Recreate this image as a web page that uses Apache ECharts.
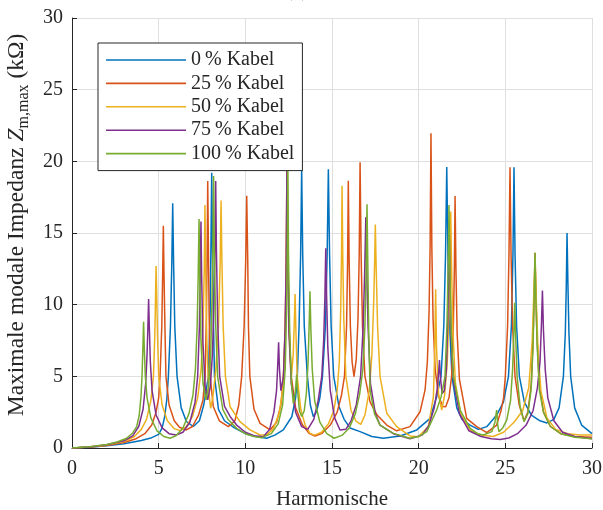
<!DOCTYPE html>
<html><head><meta charset="utf-8">
<script src="https://cdn.jsdelivr.net/npm/echarts@6/dist/echarts.min.js"></script>
<style>html,body{margin:0;padding:0;background:#fff}#c{width:603px;height:510px}</style>
</head><body><div id="c"></div>
<script>
const seriesNames = ['0\u2009% Kabel', '25\u2009% Kabel', '50\u2009% Kabel', '75\u2009% Kabel', '100\u2009% Kabel'];
const xAxisTitle = 'Harmonische';
const titleText = '(a)';

const kabel0 = [[0,0],[1,0.06],[2,0.15],[3,0.3],[4,0.52],[4.6,0.72],[5.0,0.95],[5.2,1.4],[5.35,2.2],[5.47,3.4],[5.56,5.0],[5.68,8.5],[5.76,13.0],[5.81,17.07],[5.86,13.0],[5.93,8.5],[6.06,5.0],[6.3,2.8],[6.6,1.85],[7.0,1.5],[7.35,1.9],[7.6,3.0],[7.87,5.0],[7.97,9.5],[8.02,14.5],[8.06,19.2],[8.1,14.5],[8.15,9.5],[8.22,5.0],[8.45,2.7],[8.8,1.9],[9.37,1.4],[10.0,1.0],[10.6,0.8],[11.23,0.68],[11.7,0.9],[12.19,1.26],[12.68,2.18],[12.9,3.5],[13.0,5.0],[13.1,8.5],[13.19,13.5],[13.25,19.5],[13.31,13.5],[13.4,8.5],[13.58,5.0],[13.75,3.0],[13.92,2.2],[14.1,2.5],[14.3,3.5],[14.45,5.0],[14.62,8.5],[14.72,13.5],[14.79,19.45],[14.86,13.5],[14.95,8.5],[15.1,5.0],[15.4,2.9],[15.7,2.0],[16.04,1.4],[16.62,1.14],[17.3,0.8],[17.96,0.68],[18.93,0.84],[19.89,1.26],[20.66,2.07],[21.04,3.58],[21.29,5.0],[21.45,8.5],[21.55,13.5],[21.62,19.6],[21.69,13.5],[21.79,8.5],[21.92,5.0],[22.2,2.8],[22.5,2.0],[22.96,1.6],[23.44,1.3],[23.93,1.49],[24.5,2.3],[24.89,3.2],[25.18,5.0],[25.35,8.5],[25.44,13.5],[25.5,19.58],[25.56,13.5],[25.65,8.5],[25.81,5.0],[26.1,3.2],[26.5,2.3],[27.0,1.9],[27.4,1.75],[27.8,2.0],[28.1,2.8],[28.35,5.0],[28.46,8.0],[28.52,11.5],[28.56,15.0],[28.61,11.5],[28.67,8.0],[28.77,5.0],[29.0,2.8],[29.4,1.6],[30,1.0]];

const kabel25 = [[0,0],[1,0.07],[2,0.17],[3,0.38],[3.7,0.65],[4.2,1.0],[4.6,1.6],[4.85,2.5],[5.0,3.5],[5.08,5.0],[5.18,8.5],[5.23,12.0],[5.27,15.5],[5.31,12.0],[5.36,8.5],[5.42,5.0],[5.6,3.0],[5.9,1.9],[6.2,1.45],[6.6,1.26],[6.95,1.5],[7.3,2.3],[7.55,3.3],[7.68,5.0],[7.76,9.5],[7.8,14.0],[7.83,18.63],[7.87,14.0],[7.91,9.5],[7.97,5.0],[8.15,2.9],[8.5,1.9],[9.02,1.49],[9.4,1.9],[9.62,3.0],[9.79,5.0],[9.93,8.5],[10.02,13.0],[10.08,17.6],[10.14,13.0],[10.18,8.5],[10.26,5.0],[10.5,2.7],[10.85,1.72],[11.43,1.26],[11.8,1.8],[12.05,3.0],[12.2,5.0],[12.3,8.5],[12.36,13.5],[12.4,19.8],[12.45,13.5],[12.52,8.5],[12.65,5.0],[12.9,2.8],[13.3,1.6],[13.7,1.0],[14.02,0.84],[14.4,1.0],[14.9,1.6],[15.3,2.5],[15.55,3.7],[15.72,5.0],[15.84,8.5],[15.9,13.0],[15.94,18.65],[15.99,13.0],[16.06,8.5],[16.16,6.0],[16.27,4.98],[16.4,6.2],[16.5,9.0],[16.57,13.5],[16.62,19.93],[16.68,13.5],[16.76,8.5],[16.9,5.0],[17.2,3.2],[17.6,2.3],[18.16,1.6],[18.73,1.2],[19.5,1.49],[20.08,2.53],[20.37,4.05],[20.5,6.0],[20.6,9.5],[20.66,14.0],[20.71,21.96],[20.76,14.0],[20.83,9.0],[20.95,5.5],[21.15,3.6],[21.4,2.9],[21.56,2.88],[21.75,3.5],[21.9,5.0],[22.0,8.5],[22.06,12.5],[22.1,17.58],[22.15,12.5],[22.22,8.0],[22.35,4.8],[22.77,2.07],[23.35,1.49],[23.93,1.07],[24.5,1.6],[24.75,2.6],[24.9,3.5],[25.0,5.0],[25.13,8.5],[25.21,13.5],[25.27,19.58],[25.33,13.5],[25.42,8.5],[25.56,5.0],[25.8,3.0],[26.08,1.9],[26.3,2.5],[26.5,4.5],[26.62,8.5],[26.68,11.5],[26.71,13.6],[26.75,11.5],[26.82,8.0],[26.95,4.5],[27.2,2.5],[27.6,1.5],[28.2,1.0],[29.0,0.8],[30,0.75]];

const kabel50 = [[0,0],[1,0.07],[2,0.2],[3,0.45],[3.6,0.8],[4.0,1.3],[4.3,2.0],[4.55,3.3],[4.7,5.0],[4.78,8.0],[4.82,10.5],[4.85,12.7],[4.89,10.5],[4.93,8.0],[5.0,5.0],[5.2,3.0],[5.5,1.9],[5.9,1.35],[6.25,1.2],[6.6,1.5],[6.95,2.2],[7.25,3.5],[7.45,5.5],[7.56,8.5],[7.63,12.5],[7.67,16.96],[7.71,12.5],[7.78,7.5],[7.88,4.0],[8.0,2.77],[8.12,3.5],[8.3,5.5],[8.45,8.5],[8.55,13.0],[8.6,17.26],[8.65,13.0],[8.72,8.5],[8.85,5.0],[9.12,2.88],[9.69,1.84],[10.27,1.26],[10.85,0.91],[11.2,0.9],[11.6,1.3],[11.95,2.4],[12.15,4.0],[12.28,7.0],[12.36,12.0],[12.42,19.9],[12.48,12.0],[12.56,7.0],[12.66,5.0],[12.76,6.5],[12.83,9.0],[12.87,10.75],[12.91,8.5],[12.99,5.0],[13.2,2.7],[13.45,1.6],[13.73,1.02],[14.0,0.9],[14.4,1.1],[14.8,1.7],[15.1,2.6],[15.3,4.0],[15.42,6.0],[15.5,9.5],[15.55,13.5],[15.58,18.3],[15.62,13.5],[15.68,9.0],[15.8,5.0],[16.1,2.6],[16.4,1.85],[16.66,1.65],[16.9,2.3],[17.15,4.0],[17.3,6.5],[17.4,10.0],[17.46,13.0],[17.5,15.6],[17.55,12.5],[17.63,8.5],[17.77,5.0],[18.16,2.42],[18.73,1.49],[19.5,0.84],[19.98,0.79],[20.56,1.49],[20.85,3.58],[20.93,7.0],[20.98,11.07],[21.03,7.0],[21.15,3.7],[21.33,2.65],[21.5,3.7],[21.65,6.0],[21.75,9.5],[21.81,13.0],[21.85,16.5],[21.9,12.5],[21.98,8.0],[22.12,4.5],[22.45,2.3],[22.96,1.26],[23.6,0.9],[24.3,0.8],[24.9,1.1],[25.5,1.8],[26.0,2.6],[26.35,4.2],[26.55,7.5],[26.65,11.0],[26.72,13.3],[26.78,10.5],[26.88,7.0],[27.05,4.0],[27.4,2.1],[27.9,1.3],[28.6,1.0],[29.3,0.9],[30,0.9]];

const kabel75 = [[0,0],[1,0.07],[2,0.22],[3,0.5],[3.5,0.85],[3.85,1.5],[4.1,2.7],[4.25,4.5],[4.33,6.5],[4.38,8.5],[4.42,10.4],[4.46,8.5],[4.52,6.0],[4.62,4.0],[4.85,2.3],[5.2,1.4],[5.6,1.0],[6.0,0.9],[6.4,1.1],[6.8,1.8],[7.1,3.2],[7.25,5.0],[7.35,8.5],[7.41,12.5],[7.44,15.8],[7.48,12.0],[7.55,7.5],[7.68,4.3],[7.83,3.35],[7.98,4.3],[8.1,6.5],[8.2,10.5],[8.25,14.0],[8.29,18.63],[8.33,14.0],[8.4,9.0],[8.52,5.0],[8.8,2.9],[9.12,2.2],[9.5,1.6],[10.0,1.1],[10.5,0.85],[11.04,0.79],[11.4,1.3],[11.65,2.5],[11.8,4.0],[11.87,5.8],[11.92,7.37],[11.97,5.5],[12.05,4.0],[12.2,5.0],[12.3,8.5],[12.36,13.0],[12.4,19.5],[12.45,13.0],[12.52,8.0],[12.65,4.5],[12.9,2.5],[13.25,1.49],[13.6,1.3],[13.95,2.0],[14.2,3.3],[14.41,5.0],[14.52,7.5],[14.59,10.5],[14.64,13.93],[14.69,10.5],[14.76,7.0],[14.9,4.0],[15.15,2.1],[15.46,1.26],[15.8,1.3],[16.1,1.9],[16.4,3.0],[16.65,5.0],[16.8,8.5],[16.89,12.5],[16.95,16.1],[17.0,12.5],[17.08,8.5],[17.22,4.5],[17.5,2.4],[17.77,1.6],[18.54,1.0],[19.5,0.65],[20.2,0.9],[20.6,1.6],[20.9,2.8],[21.08,4.2],[21.16,5.4],[21.2,6.14],[21.25,5.0],[21.35,3.8],[21.48,4.0],[21.6,5.5],[21.68,9.0],[21.72,12.5],[21.76,15.5],[21.8,12.0],[21.88,7.5],[22.03,4.5],[22.35,2.4],[22.9,1.2],[23.6,0.8],[24.2,0.65],[24.7,0.6],[25.2,0.7],[25.7,1.0],[26.2,1.6],[26.6,2.6],[26.85,4.2],[27.0,6.0],[27.08,8.5],[27.14,10.98],[27.2,8.2],[27.3,5.5],[27.45,3.5],[27.8,1.9],[28.3,1.1],[29.0,0.8],[30,0.65]];

const kabel100 = [[0,0],[1,0.08],[2,0.25],[2.6,0.42],[3.15,0.68],[3.5,1.05],[3.73,1.49],[3.88,2.3],[3.98,3.6],[4.04,5.0],[4.09,7.0],[4.13,8.8],[4.17,7.0],[4.23,5.0],[4.33,3.5],[4.55,2.1],[4.9,1.2],[5.3,0.8],[5.65,0.68],[6.0,0.85],[6.4,1.4],[6.75,2.4],[6.98,3.7],[7.12,5.5],[7.22,8.5],[7.28,12.0],[7.33,15.98],[7.37,12.0],[7.44,7.5],[7.56,4.5],[7.73,3.35],[7.88,4.3],[8.0,6.5],[8.08,10.5],[8.13,14.0],[8.17,18.98],[8.21,14.0],[8.28,9.0],[8.4,5.0],[8.7,2.7],[9.0,2.0],[9.5,1.37],[10.0,1.0],[10.5,0.8],[10.95,0.72],[11.5,1.0],[11.9,1.7],[12.15,3.0],[12.3,5.5],[12.38,9.5],[12.42,14.0],[12.45,20.3],[12.49,13.5],[12.56,8.0],[12.66,4.5],[12.77,3.1],[12.88,3.9],[12.93,4.6],[12.96,5.1],[13.0,4.2],[13.12,2.6],[13.25,2.2],[13.4,2.6],[13.52,3.8],[13.62,6.0],[13.68,8.5],[13.73,10.93],[13.78,8.3],[13.86,5.5],[14.0,3.3],[14.3,1.8],[14.7,1.0],[15.12,0.68],[15.6,0.9],[16.0,1.4],[16.35,2.4],[16.6,3.8],[16.78,5.5],[16.9,8.5],[16.97,12.5],[17.02,17.0],[17.07,12.5],[17.12,8.0],[17.2,4.0],[17.45,2.4],[17.77,1.6],[18.54,1.02],[19.5,0.68],[20.0,0.8],[20.47,1.14],[21.04,2.65],[21.3,3.6],[21.52,5.0],[21.63,8.5],[21.7,12.5],[21.75,16.96],[21.8,12.5],[21.88,8.0],[22.0,5.0],[22.39,2.65],[22.97,1.37],[23.4,1.0],[23.73,0.91],[24.22,1.14],[24.4,1.8],[24.5,2.65],[24.56,1.6],[24.63,1.14],[24.85,1.4],[25.08,1.95],[25.3,3.3],[25.42,5.5],[25.49,8.0],[25.54,10.14],[25.59,8.0],[25.68,5.0],[25.85,2.9],[26.08,1.84],[26.3,2.4],[26.48,4.0],[26.6,7.0],[26.66,10.5],[26.71,13.63],[26.76,10.5],[26.84,7.0],[26.97,4.0],[27.2,2.5],[27.6,1.5],[28.2,1.0],[29.0,0.75],[30,0.65]];

const seriesData = [kabel0, kabel25, kabel50, kabel75, kabel100];
const seriesColors = ['#0072BD', '#D95319', '#EDB120', '#7E2F8E', '#77AC30'];
const F = '"Liberation Serif", "Times New Roman", serif';
const AX = '#262626';

const chart = echarts.init(document.getElementById('c'), null, {renderer: 'canvas'});
chart.setOption({
  animation: false,
  backgroundColor: '#fff',
  grid: {left: 72, right: 11, top: 18, bottom: 62, containLabel: false, outerBoundsMode: 'none'},
  graphic: [{type: 'text', left: 286, top: -19, z: 10,
    style: {text: titleText, font: '20px ' + F, fill: AX}}],
  legend: {
    orient: 'vertical', left: 98, top: 43,
    backgroundColor: '#fff', borderColor: AX, borderWidth: 1,
    padding: [7, 8, 7, 8], itemGap: 3.4, itemWidth: 80, itemHeight: 1.6,
    icon: 'rect',
    textStyle: {fontFamily: F, fontSize: 20, color: AX, lineHeight: 20},
    data: seriesNames
  },
  xAxis: {
    type: 'value', min: 0, max: 30, interval: 5,
    name: xAxisTitle, nameLocation: 'middle', nameGap: 41,
    nameTextStyle: {fontFamily: F, fontSize: 21, color: AX},
    axisLine: {show: true, onZero: false, lineStyle: {color: AX, width: 1}},
    axisTick: {show: true, inside: true, length: 5, lineStyle: {color: AX}},
    axisLabel: {fontFamily: F, fontSize: 20, color: AX, margin: 11},
    splitLine: {show: true, lineStyle: {color: '#dfdfdf', width: 1}}
  },
  yAxis: {
    type: 'value', min: 0, max: 30, interval: 5,
    name: '{t|Maximale modale Impedanz }{i|Z}{s|m,max}{t| (kΩ)}',
    nameLocation: 'middle', nameGap: 33,
    nameTextStyle: {fontFamily: F, fontSize: 23.5, color: AX, padding: [0, 0, 0, 16], rich: {
      t: {fontFamily: F, fontSize: 23.5, color: AX, lineHeight: 27, verticalAlign: 'top', padding: [2, 0, 0, 0]},
      i: {fontFamily: F, fontSize: 23.5, fontStyle: 'italic', color: AX, lineHeight: 27, verticalAlign: 'top', padding: [2, 0, 0, 0]},
      s: {fontFamily: F, fontSize: 16, color: AX, lineHeight: 27, verticalAlign: 'top', padding: [13, 0, 0, 0]}
    }},
    axisLine: {show: true, onZero: false, lineStyle: {color: AX, width: 1}},
    axisTick: {show: true, inside: true, length: 5, lineStyle: {color: AX}},
    axisLabel: {fontFamily: F, fontSize: 20, color: AX, margin: 9},
    splitLine: {show: true, lineStyle: {color: '#dfdfdf', width: 1}}
  },
  series: seriesNames.map((n, i) => ({
    name: n, type: 'line', data: seriesData[i],
    symbol: 'none', showSymbol: false, clip: true,
    lineStyle: {color: seriesColors[i], width: 1.5},
    itemStyle: {color: seriesColors[i]}
  }))
});
</script>
</body></html>
